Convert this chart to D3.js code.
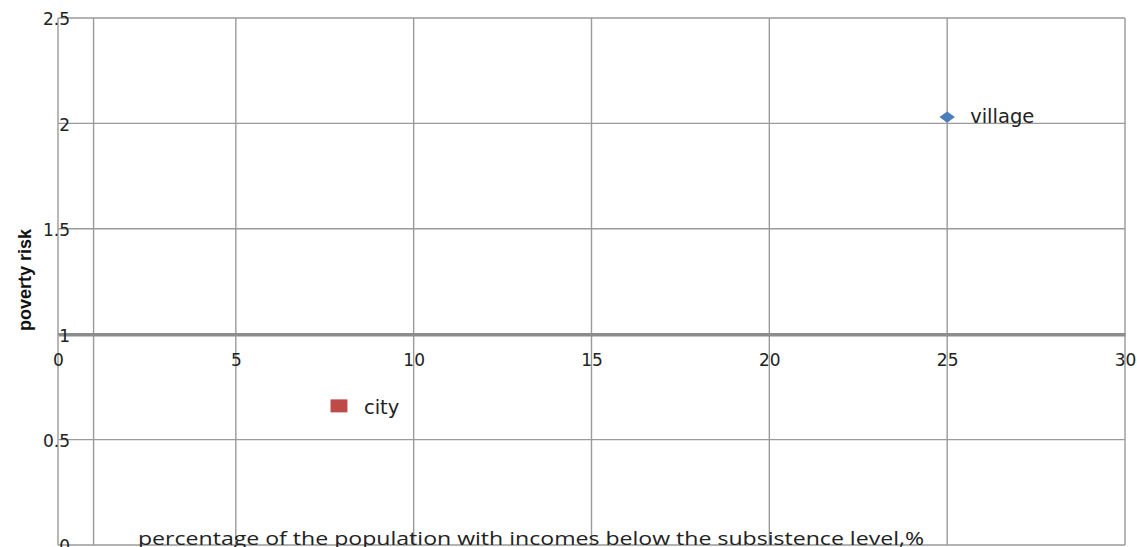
<!DOCTYPE html>
<html>
<head>
<meta charset="utf-8">
<script src="https://cdn.jsdelivr.net/npm/d3@7/dist/d3.min.js"></script>
<style>
  html, body { margin: 0; padding: 0; background: #fff; }
  svg { display: block; }
</style>
</head>
<body>
<svg id="chart" width="1137" height="547"></svg>
<script>
// Poverty risk vs. share of population below subsistence level
const categories = ["village", "city"];
const xValues = [25, 7.9];
const yValues = [2.03, 0.66];
const xTicks = [0, 5, 10, 15, 20, 25, 30];
const yTicks = [0, 0.5, 1, 1.5, 2, 2.5];
const xGridExtra = [1];   // vertical line where the value axis crosses
const xTitle = "percentage of the population with incomes below the subsistence level,%";
const yTitle = "poverty risk";

(function () {
const svg = d3.select("#chart");
const mLeft = 58, mRight = 1125, mTop = 18, mBottom = 545;

const x = d3.scaleLinear().domain([0, 30]).range([mLeft, mRight]);
const y = d3.scaleLinear().domain([0, 2.5]).range([mBottom, mTop]);

const gridColor = "#9a9a9a";

// horizontal gridlines
svg.append("g").selectAll("line").data(yTicks).join("line")
  .attr("x1", mLeft).attr("x2", mRight)
  .attr("y1", d => y(d)).attr("y2", d => y(d))
  .attr("stroke", gridColor).attr("stroke-width", 1.4);

// vertical gridlines
svg.append("g").selectAll("line").data(xTicks.concat(xGridExtra)).join("line")
  .attr("x1", d => x(d)).attr("x2", d => x(d))
  .attr("y1", mTop).attr("y2", mBottom)
  .attr("stroke", gridColor).attr("stroke-width", 1.4);

// horizontal axis crosses at y = 1
const xAxis = d3.axisBottom(x).tickValues(xTicks).tickSize(0).tickPadding(0);
const gx = svg.append("g").attr("transform", `translate(0,${y(1)})`).call(xAxis);
gx.select(".domain").attr("stroke", "#8c8c8c").attr("stroke-width", 3.4);
gx.selectAll("text")
  .attr("dy", null).attr("y", 32)
  .attr("font-family", "DejaVu Sans, Verdana, sans-serif")
  .attr("font-size", 17).attr("fill", "#222");

// vertical axis labels
const yAxis = d3.axisLeft(y).tickValues(yTicks).tickSize(0).tickPadding(0)
  .tickFormat(d3.format("~g"));
const gy = svg.append("g").attr("transform", `translate(${mLeft + 12},0)`).call(yAxis);
gy.select(".domain").remove();
gy.selectAll("text")
  .attr("dy", "0.4em")
  .attr("font-family", "DejaVu Sans, Verdana, sans-serif")
  .attr("font-size", 17).attr("fill", "#222");

// markers
const pts = categories.map((c, i) => ({ name: c, x: xValues[i], y: yValues[i] }));
const colors = { village: "#4a7ebb", city: "#be4b48" };
const shape = {
  // flattened diamond: a rotated square stretched sideways
  village: { d: d3.symbol().type(d3.symbolSquare).size(62)(), t: "scale(1.38,1) rotate(45)" },
  city: { d: d3.symbol().type(d3.symbolSquare).size(169)(), t: "scale(1.3,1)" }
};

svg.append("g").selectAll("path").data(pts).join("path")
  .attr("d", d => shape[d.name].d)
  .attr("transform", d => `translate(${x(d.x)},${y(d.y)}) ${shape[d.name].t}`)
  .attr("fill", d => colors[d.name]);

// point labels
const labelDx = { village: 23, city: 25 };
const labelDy = { village: 6, city: 8 };
svg.append("g").selectAll("text").data(pts).join("text")
  .attr("x", d => x(d.x) + labelDx[d.name])
  .attr("y", d => y(d.y) + labelDy[d.name])
  .attr("font-family", "DejaVu Sans, Verdana, sans-serif")
  .attr("font-size", 19.5).attr("fill", "#222")
  .text(d => d.name);

// axis titles
svg.append("text")
  .attr("x", 531).attr("y", 545)
  .attr("text-anchor", "middle")
  .attr("font-family", "Open Sans, Noto Sans, sans-serif")
  .attr("font-size", 19).attr("fill", "#222")
  .attr("textLength", 786).attr("lengthAdjust", "spacingAndGlyphs")
  .text(xTitle);

svg.append("text")
  .attr("transform", "translate(31,280) rotate(-90)")
  .attr("text-anchor", "middle")
  .attr("font-family", "Liberation Sans Narrow, Arial Narrow, sans-serif")
  .attr("font-weight", "bold")
  .attr("font-size", 18).attr("fill", "#111")
  .text(yTitle);
})();
</script>
</body>
</html>
